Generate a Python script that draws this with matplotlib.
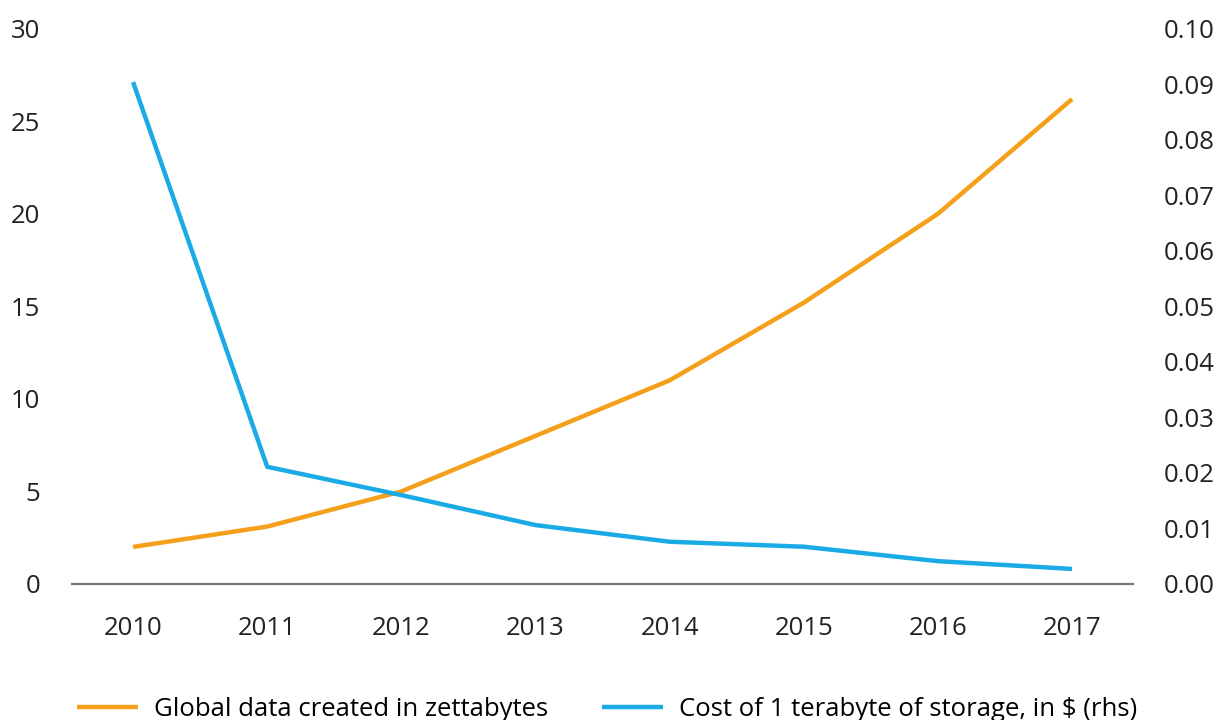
import matplotlib
matplotlib.use("Agg")
import matplotlib.pyplot as plt

plt.rcParams['font.family'] = ['Open Sans', 'DejaVu Sans']

years = [2010, 2011, 2012, 2013, 2014, 2015, 2016, 2017]
# global data created, zettabytes (left axis)
data_zb = [2.0, 3.1, 5.0, 8.0, 11.0, 15.2, 20.0, 26.2]
# cost of 1 TB of storage, $ (right axis)
cost_tb = [0.0904, 0.0211, 0.0160, 0.0106, 0.0076, 0.0067, 0.0041, 0.0027]

orange = '#F5A01A'
blue = '#1AABE6'

fig = plt.figure(figsize=(12.21, 7.2), dpi=100)
ax = fig.add_axes([0.059, 0.189, 0.869, 0.771])
ax2 = ax.twinx()

l1, = ax.plot(years, data_zb, color=orange, lw=3.2, solid_capstyle='butt',
              label='Global data created in zettabytes')
l2, = ax2.plot(years, cost_tb, color=blue, lw=3.2, solid_capstyle='butt',
               label='Cost of 1 terabyte of storage, in $ (rhs)')

ax.set_xlim(2009.545, 2017.455)
ax.set_ylim(0, 30)
ax2.set_ylim(0, 0.10)
ax.set_xticks(years)
ax.set_yticks(range(0, 31, 5))
ax2.set_yticks([i / 100 for i in range(11)])
ax2.set_yticklabels(['%.2f' % (i / 100) for i in range(11)])

for a in (ax, ax2):
    for s in a.spines.values():
        s.set_visible(False)
    a.tick_params(length=0, labelsize=18.5, colors='#222222')
ax.spines['bottom'].set_visible(True)
ax.spines['bottom'].set_color('#777777')
ax.spines['bottom'].set_linewidth(1.6)
ax.tick_params(axis='x', pad=23)
ax.tick_params(axis='y', pad=23)
ax2.tick_params(axis='y', pad=22)
for t in ax.get_yticklabels():
    t.set_horizontalalignment('right')

fig.legend(handles=[l1, l2], loc='center', bbox_to_anchor=(0.497, 0.014),
           ncol=2, frameon=False, fontsize=18.5, handlelength=2.4,
           handletextpad=0.6, columnspacing=2.1)

fig.savefig('out.png', dpi=100)
